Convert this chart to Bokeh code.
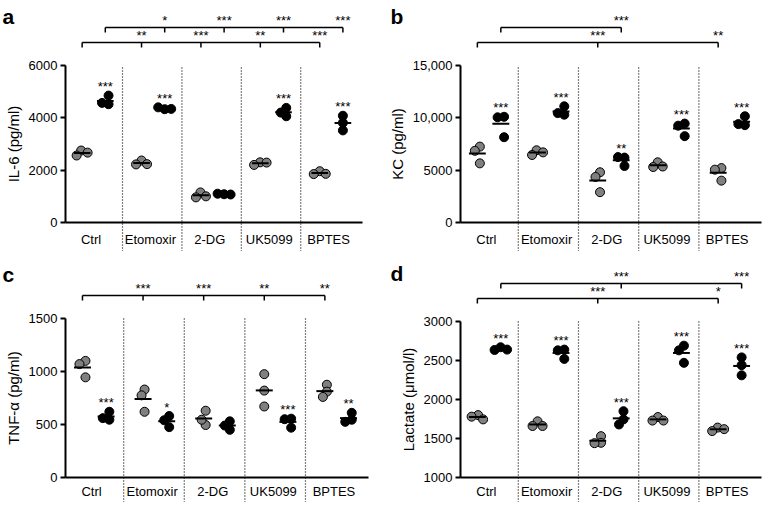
import numpy as np
from bokeh.plotting import figure
from bokeh.models import Range1d, LinearAxis, FixedTicker
from bokeh.layouts import gridplot
from bokeh.embed import file_html
from bokeh.resources import INLINE
from bokeh.core.properties import value

FONT = "Liberation Sans"

groups = ["Ctrl", "Etomoxir", "2-DG", "UK5099", "BPTES"]

# ---- panel a: IL-6 (pg/ml) ----
il6_gray = [[2750, 2560, 2670], [2370, 2220, 2230], [1150, 960, 1000],
            [2300, 2200, 2290], [1960, 1850, 1860]]
il6_black = [[4520, 4850, 4570], [4330, 4400, 4340], [1080, 1100, 1070],
             [4380, 4060, 4200], [3520, 4080, 3810]]
il6_stars = ["***", "***", "", "***", "***"]
il6_cmp_gray = ["**", "***", "**", "***"]
il6_cmp_black = ["*", "***", "***", "***"]
il6_ticks = [0, 2000, 4000, 6000]
il6_tick_labels = ["0", "2000", "4000", "6000"]

# ---- panel b: KC (pg/ml) ----
kc_gray = [[7250, 5650, 6850], [6900, 6450, 6700], [4800, 2900, 4350],
           [5750, 5300, 5350], [5200, 4000, 5050]]
kc_black = [[10100, 8150, 10050], [10300, 11100, 10450], [5400, 6200, 6250],
            [9450, 8250, 9250], [9300, 10150, 9400]]
kc_stars = ["***", "***", "**", "***", "***"]
kc_cmp_gray = ["", "***", "", "**"]
kc_cmp_black = ["", "***", "", ""]
kc_ticks = [0, 5000, 10000, 15000]
kc_tick_labels = ["0", "5000", "10,000", "15,000"]

# ---- panel c: TNF-alpha (pg/ml) ----
tnf_gray = [[1100, 945, 1070], [830, 620, 775], [495, 630, 545],
            [975, 820, 670], [875, 810, 760]]
tnf_black = [[545, 620, 560], [475, 580, 540], [530, 450, 490],
             [555, 550, 470], [610, 545, 525]]
tnf_stars = ["***", "*", "", "***", "**"]
tnf_cmp_gray = ["***", "***", "**", "**"]
tnf_cmp_black = ["", "", "", ""]
tnf_ticks = [0, 500, 1000, 1500]
tnf_tick_labels = ["0", "500", "1000", "1500"]

# ---- panel d: Lactate (umol/l) ----
lac_gray = [[1800, 1780, 1745], [1720, 1660, 1660], [1530, 1445, 1440],
            [1775, 1730, 1730], [1640, 1595, 1620]]
lac_black = [[2670, 2635, 2640], [2640, 2630, 2520], [1850, 1745, 1680],
             [2690, 2630, 2470], [2540, 2440, 2310]]
lac_stars = ["***", "***", "***", "***", "***"]
lac_cmp_gray = ["", "***", "", "*"]
lac_cmp_black = ["", "***", "", "***"]
lac_ticks = [1000, 1500, 2000, 2500, 3000]
lac_tick_labels = ["1000", "1500", "2000", "2500", "3000"]


def swarm(vals, ux, uy, D=6.5):
    """Spread points horizontally (in px) so circles don't overlap too much."""
    cands = [0.0]
    for k in range(1, 25):
        cands += [-k * 0.5, k * 0.5]
    placed = []
    for v in vals:
        py = v * uy
        chosen = cands[-1]
        for c in cands:
            if all((c - ox) ** 2 + (py - oy) ** 2 >= D * D for ox, oy in placed):
                chosen = c
                break
        placed.append((chosen, py))
    offs = [c for c, _ in placed]
    mid = (max(offs) + min(offs)) / 2.0
    return [(o - mid) / ux for o in offs]


def style_axis(ax):
    ax.axis_line_width = 2
    ax.axis_line_color = "black"
    ax.major_tick_line_width = 2
    ax.major_tick_line_color = "black"
    ax.major_tick_in = 0
    ax.minor_tick_line_color = None
    ax.major_label_text_font = FONT
    ax.major_label_text_font_size = "13px"
    ax.major_label_text_color = "black"
    ax.axis_label_text_font = FONT
    ax.axis_label_text_font_size = "15px"
    ax.axis_label_text_font_style = "normal"
    ax.axis_label_text_color = "black"


def make_panel(letter, letter_px, gray, black, stars, cmp_gray, cmp_black,
               ylabel, ticks, tick_labels, W, H, axl, axr, axt, axb, xstandoff):
    ymin, ymax = ticks[0], ticks[-1]
    n = len(groups)
    ux = (axr - axl) / float(n)
    uy = (axb - axt) / float(ymax - ymin)
    x0 = -axl / ux
    x1 = x0 + W / ux
    y1 = ymax + axt / uy
    y0 = y1 - H / uy
    p = figure(width=W, height=H, x_range=Range1d(x0, x1), y_range=Range1d(y0, y1),
               output_backend="svg", toolbar_location=None, min_border=0,
               x_axis_type=None, y_axis_type=None, tools="", title_location=None)
    p.outline_line_color = None
    p.background_fill_color = "white"
    p.border_fill_color = "white"

    gx = [i + 0.28 for i in range(n)]
    bx = [i + 0.67 for i in range(n)]

    # dotted group separators
    seps = [i - 0.04 for i in range(1, n)]
    p.segment(x0=seps, y0=[y0] * len(seps), x1=seps, y1=[ymax] * len(seps),
              line_color="black", line_width=1.2, line_dash="1 2")

    # points + mean lines
    for vals_list, xs, fill in ((gray, gx, "#808080"), (black, bx, "black")):
        px, py, mx0, mx1, my = [], [], [], [], []
        for xc, vals in zip(xs, vals_list):
            offs = swarm(vals, ux, uy)
            px += [xc + o for o in offs]
            py += list(vals)
            m = float(np.mean(vals))
            mx0.append(xc - 0.14)
            mx1.append(xc + 0.14)
            my.append(m)
        p.scatter(px, py, size=9, fill_color=fill, line_color="black", line_width=1)
        p.segment(x0=mx0, y0=my, x1=mx1, y1=my, line_color="black", line_width=2)

    txt = dict(text_font=value(FONT), text_font_size="13px", text_align="center",
               text_baseline="alphabetic", text_color="black")

    # stars above stimulated clusters
    sx, sy, st = [], [], []
    for xc, vals, s in zip(bx, black, stars):
        if s:
            sx.append(xc)
            sy.append(max(vals) + 9.0 / uy)
            st.append(s)
    if st:
        p.text(x=sx, y=sy, text=st, **txt)

    # comparison brackets
    def bracket(xs, labels, level_px):
        L = ymax + level_px / uy
        idx = [i + 1 for i, s in enumerate(labels) if s]
        if not idx:
            return
        end = max(idx)
        tx = [xs[0]] + [xs[i] for i in idx]
        p.segment(x0=[xs[0]], y0=[L], x1=[xs[end]], y1=[L], line_color="black", line_width=1.5)
        p.segment(x0=tx, y0=[L] * len(tx), x1=tx, y1=[L - 5.0 / uy] * len(tx),
                  line_color="black", line_width=1.5)
        p.text(x=[xs[i] for i in idx], y=[L + 7.0 / uy] * len(idx),
               text=[labels[i - 1] for i in idx], **txt)

    bracket(gx, cmp_gray, 23)
    bracket(bx, cmp_black, 38)

    # panel letter
    p.text(x=[x0 + letter_px[0] / ux], y=[y1 - letter_px[1] / uy], text=[letter],
           text_font=value(FONT), text_font_size="21px", text_font_style="bold",
           text_align="left", text_baseline="alphabetic", text_color="black")

    # axes
    yax = LinearAxis(fixed_location=0, bounds=(ymin, ymax),
                     ticker=FixedTicker(ticks=ticks, minor_ticks=[]),
                     major_label_overrides={t: l for t, l in zip(ticks, tick_labels)},
                     axis_label=ylabel)
    style_axis(yax)
    yax.major_tick_out = 5
    yax.major_label_standoff = 3
    yax.axis_label_standoff = 4
    p.add_layout(yax, "left")

    cpos = [i + 0.43 for i in range(n)]
    xax = LinearAxis(fixed_location=ymin, bounds=(0, n),
                     ticker=FixedTicker(ticks=cpos, minor_ticks=[]),
                     major_label_overrides={c: g for c, g in zip(cpos, groups)})
    style_axis(xax)
    xax.major_tick_out = 0
    xax.major_label_standoff = xstandoff
    p.add_layout(xax, "below")
    return p


pa = make_panel("a", (2, 16), il6_gray, il6_black, il6_stars, il6_cmp_gray, il6_cmp_black,
                "IL-6 (pg/ml)", il6_ticks, il6_tick_labels, 381, 251, 65, 362, 65, 222, 9)
pb = make_panel("b", (9, 16), kc_gray, kc_black, kc_stars, kc_cmp_gray, kc_cmp_black,
                "KC (pg/ml)", kc_ticks, kc_tick_labels, 382, 251, 79, 380, 65, 222, 9)
pc = make_panel("c", (2, 23), tnf_gray, tnf_black, tnf_stars, tnf_cmp_gray, tnf_cmp_black,
                "TNF-α (pg/ml)", tnf_ticks, tnf_tick_labels, 381, 251, 65, 368, 67, 226, 6)
pd = make_panel("d", (9, 22), lac_gray, lac_black, lac_stars, lac_cmp_gray, lac_cmp_black,
                "Lactate (μmol/l)", lac_ticks, lac_tick_labels, 382, 251, 79, 380, 70, 226, 6)

grid = gridplot([[pa, pb], [pc, pd]], toolbar_location=None)
open("out.html", "w").write(file_html(grid, INLINE))
